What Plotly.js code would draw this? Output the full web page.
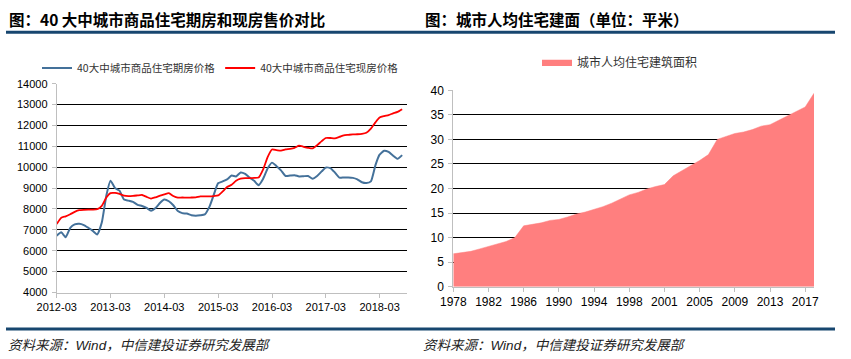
<!DOCTYPE html>
<html>
<head>
<meta charset="utf-8">
<script src="https://cdn.plot.ly/plotly-3.0.1.min.js"></script>
<style>html,body{margin:0;padding:0;background:#fff;}#chart{width:851px;height:359px;}</style>
</head>
<body>
<div id="chart"></div>
<script>
// ---- Left chart data: 40 大中城市商品住宅期房 / 现房 价格 (monthly) ----
const months = [
 '2012-03','2012-04','2012-05','2012-06','2012-07','2012-08','2012-09','2012-10','2012-11','2012-12',
 '2013-01','2013-02','2013-03','2013-04','2013-05','2013-06','2013-07','2013-08','2013-09','2013-10','2013-11','2013-12',
 '2014-01','2014-02','2014-03','2014-04','2014-05','2014-06','2014-07','2014-08','2014-09','2014-10','2014-11','2014-12',
 '2015-01','2015-02','2015-03','2015-04','2015-05','2015-06','2015-07','2015-08','2015-09','2015-10','2015-11','2015-12',
 '2016-01','2016-02','2016-03','2016-04','2016-05','2016-06','2016-07','2016-08','2016-09','2016-10','2016-11','2016-12',
 '2017-01','2017-02','2017-03','2017-04','2017-05','2017-06','2017-07','2017-08','2017-09','2017-10','2017-11','2017-12',
 '2018-01','2018-02','2018-03','2018-04','2018-05','2018-06','2018-07','2018-08'
];
const futurePrice = [
 6720,6880,6650,7100,7260,7290,7230,7100,6950,6780,
 7350,8650,9350,9000,8880,8450,8400,8340,8200,8140,
 8050,7920,8050,8300,8450,8370,8180,7900,7800,7780,
 7700,7680,7700,7740,8100,8700,9230,9320,9420,9600,
 9560,9750,9680,9500,9350,9140,9450,9950,10220,10050,
 9850,9580,9600,9620,9560,9570,9580,9450,9580,9800,
 9980,9960,9750,9500,9510,9510,9490,9420,9280,9240,
 9320,10100,10600,10790,10730,10550,10400,10580
];
const spotPrice = [
 7280,7580,7650,7750,7860,7940,7960,7970,7970,7990,
 8150,8550,8760,8770,8720,8640,8620,8630,8650,8670,
 8580,8500,8560,8640,8700,8760,8620,8540,8550,8540,
 8550,8560,8600,8600,8600,8620,8650,8840,9050,9160,
 9350,9450,9480,9480,9490,9510,9900,10500,10850,10820,
 10790,10850,10880,10930,11030,10980,10930,10900,11050,11250,
 11400,11400,11380,11450,11530,11550,11570,11580,11600,11650,
 11850,12150,12380,12450,12500,12580,12650,12780
];
const leftSeriesNames = ['40大中城市商品住宅期房价格', '40大中城市商品住宅现房价格'];

// ---- Right chart data: 城市人均住宅建筑面积 (平米) ----
const years = [
 '1978','1979','1980','1981','1982','1983','1984','1985','1986','1987',
 '1988','1989','1990','1991','1992','1993','1994','1995','1996','1997',
 '1998','1999','2000','2000','2001','2002','2003','2004','2005','2006',
 '2007','2008','2009','2010','2011','2012','2013','2014','2015','2016',
 '2017','2018'
];
const areaPerCapita = [
 6.7,6.9,7.2,7.7,8.2,8.7,9.2,10.0,12.4,12.7,
 13.0,13.5,13.7,14.2,14.8,15.2,15.7,16.3,17.0,17.8,
 18.7,19.2,19.9,20.4,20.8,22.6,23.6,24.6,25.7,26.9,
 30.0,30.6,31.2,31.5,32.0,32.7,33.0,33.9,34.8,35.7,
 36.6,39.4
];
const rightSeriesName = '城市人均住宅建筑面积';
const rightTickEvery = 4;

const titles = ['图：40 大中城市商品住宅期房和现房售价对比', '图：城市人均住宅建面（单位：平米）'];
const sourceText = '资料来源：Wind，中信建投证券研究发展部';

// ---- build ----
const W = 851, H = 359;
const px = v => v / W;
const py = v => 1 - v / H;
const CJK = 'Liberation Sans, Arial, Noto Sans CJK SC, sans-serif';

const idx = years.map((_, i) => i);
const tickIdx = idx.filter(i => i % rightTickEvery === 0);

const traces = [
  {x: months, y: futurePrice, name: leftSeriesNames[0], type: 'scatter', mode: 'lines',
   line: {color: '#44719a', width: 2, shape: 'spline', smoothing: 0.5}, xaxis: 'x', yaxis: 'y', legend: 'legend'},
  {x: months, y: spotPrice, name: leftSeriesNames[1], type: 'scatter', mode: 'lines',
   line: {color: '#ff0000', width: 1.8, shape: 'spline', smoothing: 0.5}, xaxis: 'x', yaxis: 'y', legend: 'legend'},
  {x: idx, y: areaPerCapita, name: rightSeriesName, type: 'scatter', mode: 'lines', fill: 'tozeroy',
   fillcolor: '#ff7f7f', line: {color: '#ff7f7f', width: 0.5}, xaxis: 'x2', yaxis: 'y2', legend: 'legend2'}
];

const axisCommon = {
  showline: true, linecolor: '#bfbfbf', linewidth: 1,
  ticks: 'outside', tickcolor: '#bfbfbf', ticklen: 4,
  zeroline: false
};

const layout = {
  width: W, height: H,
  margin: {l: 0, r: 0, t: 0, b: 0},
  paper_bgcolor: '#fff', plot_bgcolor: '#fff',
  font: {family: CJK, color: '#000'},
  xaxis: Object.assign({}, axisCommon, {
    domain: [px(56.7), px(406.7)], anchor: 'y', type: 'date',
    range: ['2012-03-01', '2018-09-01'],
    tick0: '2012-03-01', dtick: 'M12', tickformat: '%Y-%m',
    showgrid: false, tickfont: {size: 11, family: CJK}
  }),
  yaxis: Object.assign({}, axisCommon, {
    domain: [py(292.5), py(83.7)], anchor: 'x',
    range: [4000, 14000], dtick: 1000, tickformat: 'd',
    showgrid: true, gridcolor: '#000', gridwidth: 1,
    tickfont: {size: 11, family: CJK}, ticklabelstandoff: 2
  }),
  xaxis2: Object.assign({}, axisCommon, {
    domain: [px(453.3), px(814)], anchor: 'y2',
    range: [0, years.length - 1],
    tickmode: 'array', tickvals: tickIdx, ticktext: tickIdx.map(i => years[i]),
    showgrid: false, tickfont: {size: 12, family: CJK}
  }),
  yaxis2: Object.assign({}, axisCommon, {
    domain: [py(286.7), py(90.3)], anchor: 'x2',
    range: [0, 40], dtick: 5,
    showgrid: true, gridcolor: '#000', gridwidth: 1,
    tickfont: {size: 12, family: CJK}, ticklabelstandoff: 2
  }),
  showlegend: true,
  legend: {
    orientation: 'h', x: px(37), y: py(68), xanchor: 'left', yanchor: 'middle',
    font: {size: 10.5, color: '#333', family: 'Noto Sans CJK SC, sans-serif'},
    bgcolor: 'rgba(0,0,0,0)', itemwidth: 30, tracegroupgap: 0
  },
  legend2: {
    orientation: 'h', x: px(537), y: py(62), xanchor: 'left', yanchor: 'middle',
    font: {size: 12, color: '#333', family: 'Noto Sans CJK SC, sans-serif'},
    bgcolor: 'rgba(0,0,0,0)', itemwidth: 30
  },
  annotations: [
    {text: '<b>' + titles[0] + '</b>', xref: 'paper', yref: 'paper', x: px(7), y: py(18.5),
     xanchor: 'left', yanchor: 'middle', showarrow: false,
     font: {size: 15.5, family: 'Noto Sans CJK SC, sans-serif', color: '#000'}},
    {text: '<b>' + titles[1] + '</b>', xref: 'paper', yref: 'paper', x: px(423), y: py(18.5),
     xanchor: 'left', yanchor: 'middle', showarrow: false,
     font: {size: 15.5, family: 'Noto Sans CJK SC, sans-serif', color: '#000'}},
    {text: '<i>' + sourceText + '</i>', xref: 'paper', yref: 'paper', x: px(6), y: py(345),
     xanchor: 'left', yanchor: 'middle', showarrow: false,
     font: {size: 13.5, family: CJK, color: '#222'}},
    {text: '<i>' + sourceText + '</i>', xref: 'paper', yref: 'paper', x: px(421), y: py(345),
     xanchor: 'left', yanchor: 'middle', showarrow: false,
     font: {size: 13.5, family: CJK, color: '#222'}}
  ],
  shapes: [
    {type: 'line', xref: 'paper', yref: 'paper', x0: px(6), x1: px(835), y0: py(32.3), y1: py(32.3),
     line: {color: '#17466f', width: 3}},
    {type: 'line', xref: 'paper', yref: 'paper', x0: px(6), x1: px(835), y0: py(329), y1: py(329),
     line: {color: '#17466f', width: 3}}
  ]
};

Plotly.newPlot('chart', traces, layout, {displayModeBar: false, staticPlot: true});
</script>
</body>
</html>
